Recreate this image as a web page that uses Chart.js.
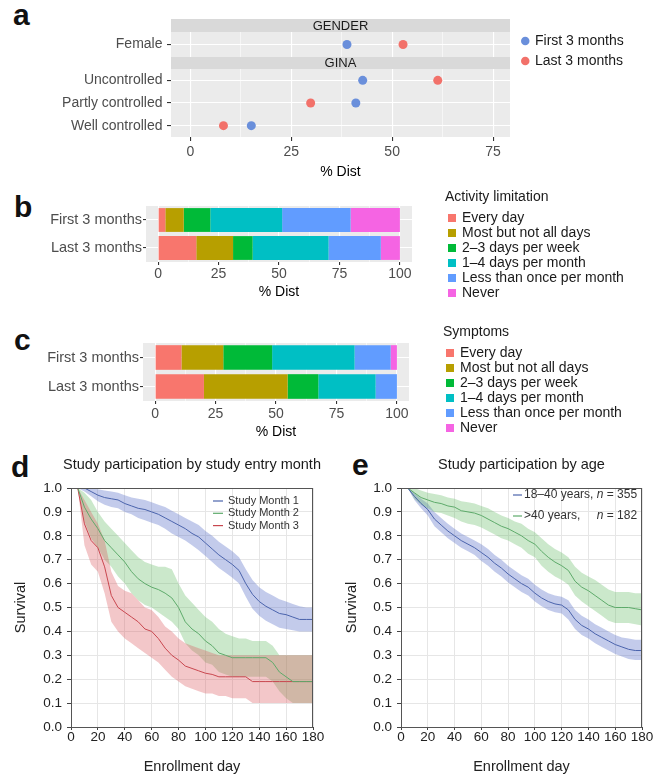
<!DOCTYPE html>
<html>
<head>
<meta charset="utf-8">
<script src="https://cdn.jsdelivr.net/npm/chart.js@4.4.1/dist/chart.umd.min.js"></script>
<style>
  html, body { margin: 0; padding: 0; background: #fff; }
  body { position: relative; width: 655px; height: 779px; overflow: hidden; font-family: "Liberation Sans", Arial, sans-serif; }
  .box { position: absolute; }
  .tag { position: absolute; font-weight: bold; font-size: 30px; line-height: 1; color: #111; }
</style>
</head>
<body>
<div class="tag" style="left:13px; top:0px">a</div>
<div class="tag" style="left:14px; top:192px">b</div>
<div class="tag" style="left:14px; top:325px">c</div>
<div class="tag" style="left:11px; top:452px">d</div>
<div class="tag" style="left:352px; top:450px">e</div>

<div class="box" style="left:0; top:0; width:655px; height:185px"><canvas id="chartA2"></canvas></div>
<div class="box" style="left:0; top:0; width:655px; height:70px"><canvas id="chartA1"></canvas></div>
<div class="box" style="left:0; top:185px; width:655px; height:125px"><canvas id="chartB"></canvas></div>
<div class="box" style="left:0; top:320px; width:655px; height:130px"><canvas id="chartC"></canvas></div>
<div class="box" style="left:0; top:450px; width:330px; height:329px"><canvas id="chartD"></canvas></div>
<div class="box" style="left:330px; top:450px; width:325px; height:329px"><canvas id="chartE"></canvas></div>

<script>
// ---- panel a: % distribution by gender / GINA control ----
const aFacets = ['GENDER', 'GINA'];
const aCategories = ['Female', 'Uncontrolled', 'Partly controlled', 'Well controlled'];
const aFacetOf = ['GENDER', 'GINA', 'GINA', 'GINA'];
const aFirst = [38.8, 42.7, 41.0, 15.1];
const aLast = [52.7, 61.3, 29.8, 8.2];
const aTicks = [0, 25, 50, 75];

// ---- panels b, c: stacked frequency bars ----
const periods = ['First 3 months', 'Last 3 months'];
const freqLevels = ['Every day', 'Most but not all days', '2\u20133 days per week', '1\u20134 days per month', 'Less than once per month', 'Never'];
const activityFirst = [3.0, 7.6, 11.0, 29.7, 28.3, 20.4];
const activityLast = [15.8, 15.2, 8.1, 31.4, 21.6, 7.9];
const symptomsFirst = [10.9, 17.3, 20.2, 34.1, 14.9, 2.6];
const symptomsLast = [20.2, 34.6, 12.7, 23.7, 8.8, 0];

// ---- panels d, e: survival curves ----
const days = [5, 10, 15, 20, 25, 30, 35, 40, 45, 50, 55, 60, 65, 70, 75, 80, 85, 90, 95, 100, 105, 110, 115, 120, 125, 130, 135, 140, 145, 150, 155, 160, 165, 170, 175, 180];

const month1 = [1.0, 1.0, 0.985, 0.97, 0.96, 0.955, 0.95, 0.935, 0.925, 0.915, 0.91, 0.9, 0.89, 0.875, 0.86, 0.845, 0.83, 0.81, 0.795, 0.77, 0.745, 0.72, 0.70, 0.68, 0.655, 0.60, 0.555, 0.525, 0.505, 0.49, 0.475, 0.47, 0.46, 0.45, 0.45, 0.45];
const month1Upper = [1.0, 1.0, 1.0, 0.995, 0.99, 0.985, 0.98, 0.97, 0.96, 0.955, 0.95, 0.94, 0.93, 0.92, 0.905, 0.89, 0.875, 0.86, 0.845, 0.82, 0.8, 0.775, 0.755, 0.735, 0.71, 0.66, 0.615, 0.585, 0.565, 0.55, 0.535, 0.525, 0.515, 0.505, 0.50, 0.50];
const month1Lower = [1.0, 0.985, 0.965, 0.945, 0.93, 0.92, 0.915, 0.9, 0.89, 0.875, 0.865, 0.855, 0.845, 0.83, 0.81, 0.795, 0.78, 0.76, 0.74, 0.715, 0.69, 0.665, 0.645, 0.625, 0.6, 0.545, 0.495, 0.465, 0.445, 0.43, 0.415, 0.41, 0.405, 0.40, 0.40, 0.40];

const month2 = [1.0, 0.92, 0.87, 0.83, 0.78, 0.75, 0.72, 0.69, 0.65, 0.62, 0.6, 0.585, 0.575, 0.56, 0.54, 0.5, 0.44, 0.41, 0.39, 0.36, 0.34, 0.31, 0.3, 0.29, 0.29, 0.29, 0.29, 0.29, 0.29, 0.27, 0.23, 0.21, 0.19, 0.19, 0.19, 0.19];
const month2Upper = [1.0, 0.98, 0.95, 0.9, 0.86, 0.83, 0.8, 0.77, 0.74, 0.71, 0.69, 0.68, 0.67, 0.67, 0.66, 0.6, 0.55, 0.52, 0.49, 0.46, 0.44, 0.41, 0.39, 0.38, 0.37, 0.37, 0.36, 0.36, 0.36, 0.34, 0.30, 0.30, 0.30, 0.30, 0.30, 0.30];
const month2Lower = [1.0, 0.86, 0.79, 0.75, 0.70, 0.67, 0.63, 0.6, 0.56, 0.53, 0.51, 0.5, 0.48, 0.46, 0.44, 0.41, 0.35, 0.32, 0.30, 0.27, 0.26, 0.23, 0.22, 0.21, 0.21, 0.21, 0.21, 0.21, 0.21, 0.19, 0.15, 0.12, 0.1, 0.1, 0.1, 0.1];

const month3 = [1.0, 0.85, 0.78, 0.75, 0.67, 0.55, 0.5, 0.48, 0.46, 0.44, 0.41, 0.40, 0.37, 0.33, 0.30, 0.28, 0.255, 0.245, 0.235, 0.225, 0.22, 0.21, 0.21, 0.21, 0.21, 0.21, 0.19, 0.19, 0.19, 0.19, 0.19, 0.19, 0.19, 0.19, 0.19, 0.19];
const month3Upper = [1.0, 0.95, 0.9, 0.85, 0.78, 0.65, 0.59, 0.57, 0.56, 0.53, 0.5, 0.49, 0.46, 0.42, 0.40, 0.37, 0.35, 0.34, 0.33, 0.32, 0.31, 0.30, 0.30, 0.30, 0.30, 0.30, 0.30, 0.30, 0.30, 0.30, 0.30, 0.30, 0.30, 0.30, 0.30, 0.30];
const month3Lower = [1.0, 0.76, 0.68, 0.65, 0.56, 0.44, 0.4, 0.37, 0.35, 0.33, 0.31, 0.29, 0.27, 0.24, 0.21, 0.19, 0.17, 0.16, 0.15, 0.14, 0.14, 0.13, 0.13, 0.12, 0.12, 0.12, 0.1, 0.1, 0.1, 0.1, 0.1, 0.1, 0.1, 0.1, 0.1, 0.1];

const young = [1.0, 0.965, 0.935, 0.91, 0.87, 0.845, 0.82, 0.80, 0.78, 0.765, 0.75, 0.73, 0.71, 0.685, 0.665, 0.64, 0.62, 0.60, 0.585, 0.56, 0.54, 0.525, 0.515, 0.51, 0.49, 0.45, 0.425, 0.41, 0.39, 0.375, 0.36, 0.345, 0.335, 0.325, 0.32, 0.32];
const youngUpper = [1.0, 0.98, 0.955, 0.935, 0.9, 0.875, 0.85, 0.83, 0.81, 0.795, 0.78, 0.765, 0.745, 0.72, 0.7, 0.675, 0.655, 0.635, 0.62, 0.595, 0.575, 0.56, 0.55, 0.545, 0.53, 0.49, 0.465, 0.45, 0.43, 0.415, 0.40, 0.385, 0.375, 0.37, 0.365, 0.365];
const youngLower = [1.0, 0.95, 0.915, 0.885, 0.84, 0.815, 0.79, 0.77, 0.75, 0.735, 0.72, 0.695, 0.675, 0.65, 0.63, 0.605, 0.585, 0.565, 0.55, 0.525, 0.505, 0.49, 0.48, 0.475, 0.45, 0.41, 0.385, 0.37, 0.35, 0.335, 0.32, 0.305, 0.295, 0.285, 0.28, 0.28];

const older = [1.0, 0.98, 0.96, 0.95, 0.94, 0.935, 0.925, 0.92, 0.905, 0.9, 0.895, 0.885, 0.87, 0.855, 0.84, 0.83, 0.815, 0.80, 0.78, 0.765, 0.735, 0.71, 0.69, 0.675, 0.655, 0.61, 0.585, 0.57, 0.55, 0.53, 0.51, 0.50, 0.50, 0.50, 0.495, 0.49];
const olderUpper = [1.0, 1.0, 0.99, 0.98, 0.975, 0.97, 0.96, 0.955, 0.945, 0.94, 0.935, 0.925, 0.915, 0.9, 0.885, 0.875, 0.86, 0.85, 0.83, 0.815, 0.79, 0.765, 0.745, 0.73, 0.71, 0.67, 0.645, 0.63, 0.615, 0.595, 0.575, 0.565, 0.565, 0.565, 0.56, 0.56];
const olderLower = [1.0, 0.955, 0.93, 0.915, 0.9, 0.895, 0.885, 0.875, 0.86, 0.85, 0.845, 0.835, 0.82, 0.805, 0.79, 0.78, 0.765, 0.75, 0.725, 0.71, 0.675, 0.65, 0.63, 0.615, 0.595, 0.55, 0.525, 0.505, 0.485, 0.465, 0.445, 0.435, 0.435, 0.435, 0.43, 0.425];

const hueColors = ['#F8766D', '#B79F00', '#00BA38', '#00BFC4', '#619CFF', '#F564E3'];
const FONT = '"Liberation Sans", Arial, Helvetica, sans-serif';

Chart.defaults.font.family = FONT;
Chart.defaults.animation = false;
Chart.defaults.plugins.legend.display = false;
Chart.defaults.plugins.tooltip.enabled = false;

function fixWidth(w) { return function (scale) { scale.width = w; }; }
function fixHeight(h) { return function (scale) { scale.height = h; }; }

// grey ggplot panel, with an optional facet strip sitting just above it
function panelBackground(color, strip, stripH) {
  return {
    id: 'panelBackground',
    beforeDraw(chart) {
      const a = chart.chartArea, ctx = chart.ctx;
      ctx.save();
      ctx.fillStyle = color;
      ctx.fillRect(a.left, a.top, a.right - a.left, a.bottom - a.top);
      if (strip) {
        ctx.fillStyle = '#D9D9D9';
        ctx.fillRect(a.left, a.top - stripH, a.right - a.left, stripH);
        ctx.fillStyle = '#1A1A1A';
        ctx.font = '13px ' + FONT;
        ctx.textAlign = 'center';
        ctx.textBaseline = 'middle';
        ctx.fillText(strip, (a.left + a.right) / 2, a.top - stripH / 2 + 0.5);
      }
      ctx.restore();
    }
  };
}

// ggplot style legend to the right of the panel
function sideLegend(cfg) {
  return {
    id: 'sideLegend',
    afterDraw(chart) {
      const ctx = chart.ctx;
      ctx.save();
      ctx.textBaseline = 'middle';
      ctx.textAlign = 'left';
      ctx.font = '14px ' + FONT;
      ctx.fillStyle = '#1A1A1A';
      if (cfg.title) ctx.fillText(cfg.title, cfg.titleX, cfg.titleY);
      chart.data.datasets.forEach((ds, i) => {
        const y = cfg.y + i * cfg.rowH;
        ctx.fillStyle = ds.backgroundColor;
        if (cfg.shape === 'circle') {
          ctx.beginPath();
          ctx.arc(cfg.x + cfg.size / 2, y, cfg.size / 2, 0, Math.PI * 2);
          ctx.fill();
        } else {
          ctx.fillRect(cfg.x, y - cfg.size / 2, cfg.size, cfg.size);
        }
        ctx.fillStyle = '#1A1A1A';
        ctx.fillText(ds.label, cfg.textX, y + 0.5);
      });
      ctx.restore();
    }
  };
}

// MATLAB style legend inside the top right of the axes; "n" is set in italics
function insideLegend(cfg) {
  return {
    id: 'insideLegend',
    afterDatasetsDraw(chart) {
      const a = chart.chartArea, ctx = chart.ctx;
      const items = chart.data.datasets.filter(ds => ds.inLegend);
      const normal = cfg.size + 'px ' + FONT;
      const italic = 'italic ' + cfg.size + 'px ' + FONT;
      const x0 = a.left + cfg.dx;
      const tx = x0 + cfg.lineLen + cfg.gap;
      ctx.save();
      ctx.textBaseline = 'middle';
      ctx.textAlign = 'left';
      const parts = items.map(ds => {
        const m = ds.label.match(/^(.*?)\s*n( = .*)$/);
        if (!m) return { head: ds.label, tail: null };
        ctx.font = normal;
        const hw = ctx.measureText(m[1] + ' ').width;
        const tw = ctx.measureText(m[2]).width;
        ctx.font = italic;
        const nw = ctx.measureText('n').width;
        return { head: m[1] + ' ', tail: m[2], hw, nw, tw };
      });
      const tailRight = Math.max(...parts.map(p => p.tail ? p.hw + p.nw + p.tw : 0));
      items.forEach((ds, i) => {
        const y = a.top + cfg.dy + i * cfg.rowH;
        ctx.strokeStyle = ds.borderColor;
        ctx.lineWidth = 1.2;
        ctx.beginPath();
        ctx.moveTo(x0, y);
        ctx.lineTo(x0 + cfg.lineLen, y);
        ctx.stroke();
        ctx.fillStyle = '#333';
        ctx.font = normal;
        const p = parts[i];
        ctx.fillText(p.head, tx, y);
        if (p.tail) {
          const nx = tx + tailRight - p.tw - p.nw;
          ctx.font = italic;
          ctx.fillText('n', nx, y);
          ctx.font = normal;
          ctx.fillText(p.tail, nx + p.nw, y);
        }
      });
      ctx.restore();
    }
  };
}

const boxBorder = {
  id: 'boxBorder',
  afterDatasetsDraw(chart) {
    const a = chart.chartArea, ctx = chart.ctx;
    ctx.save();
    ctx.strokeStyle = '#555';
    ctx.lineWidth = 1;
    ctx.strokeRect(Math.round(a.left) + 0.5, Math.round(a.top) + 0.5, Math.round(a.right - a.left) - 1, Math.round(a.bottom - a.top));
    ctx.restore();
  }
};

function areaTitle(text, y) {
  return {
    id: 'areaTitle',
    afterDraw(chart) {
      const a = chart.chartArea, ctx = chart.ctx;
      ctx.save();
      ctx.font = '14.5px ' + FONT;
      ctx.fillStyle = '#1A1A1A';
      ctx.textAlign = 'center';
      ctx.textBaseline = 'middle';
      ctx.fillText(text, (a.left + a.right) / 2, y);
      ctx.restore();
    }
  };
}

// ---------- panel a: one chart per facet ----------
const isMajorA = v => aTicks.includes(v);

function facetChart(id, facet, geo) {
  const rows = aCategories.filter((c, i) => aFacetOf[i] === facet);
  const pick = vals => aCategories.map((c, i) => ({ x: vals[i], y: c })).filter(p => rows.includes(p.y));
  const plugins = [panelBackground('#EBEBEB', facet, 13)];
  if (geo.legend) plugins.push(sideLegend({ shape: 'circle', x: 521, y: 41, rowH: 20, size: 8.5, textX: 535 }));
  return new Chart(document.getElementById(id), {
    type: 'scatter',
    data: {
      datasets: [
        { label: 'First 3 months', data: pick(aFirst), backgroundColor: '#6A8FDB', pointBackgroundColor: '#6A8FDB', pointBorderWidth: 0, pointRadius: 4.5 },
        { label: 'Last 3 months', data: pick(aLast), backgroundColor: '#F2716A', pointBackgroundColor: '#F2716A', pointBorderWidth: 0, pointRadius: 4.5 }
      ]
    },
    options: {
      responsive: true,
      maintainAspectRatio: false,
      layout: { autoPadding: false, padding: { left: 0, top: geo.top, right: 145, bottom: 0 } },
      scales: {
        x: {
          type: 'linear', min: -4.8, max: 79.2,
          afterFit: fixHeight(geo.axisH),
          border: { display: false },
          grid: {
            color: '#FFFFFF',
            lineWidth: ctx => isMajorA(ctx.tick.value) ? 1.1 : 0.55,
            drawTicks: geo.axis,
            tickLength: 4,
            tickColor: ctx => isMajorA(ctx.tick.value) ? '#333333' : 'rgba(0,0,0,0)'
          },
          ticks: {
            display: geo.axis,
            stepSize: 12.5, includeBounds: false, autoSkip: false, maxRotation: 0,
            padding: 4, color: '#4D4D4D', font: { size: 14, lineHeight: 1 },
            callback: v => isMajorA(v) ? String(v) : ''
          },
          title: { display: geo.axis, text: '% Dist', color: '#000', font: { size: 14 }, padding: { top: 0, bottom: 4.6 } }
        },
        y: {
          type: 'category', labels: rows, offset: true,
          afterFit: fixWidth(171),
          border: { display: false },
          grid: { offset: false, color: '#FFFFFF', lineWidth: 1.1, tickLength: 4, tickColor: '#333333' },
          ticks: { padding: 4.5, color: '#4D4D4D', font: { size: 14, lineHeight: 1 } }
        }
      }
    },
    plugins: plugins
  });
}

facetChart('chartA2', 'GINA', { top: 69, axisH: 48, axis: true, legend: true });
facetChart('chartA1', 'GENDER', { top: 32, axisH: 13, axis: false, legend: false });

// ---------- panels b and c ----------
function stackedPanel(id, title, first, last, geo) {
  return new Chart(document.getElementById(id), {
    type: 'bar',
    data: {
      labels: periods,
      datasets: freqLevels.map((lvl, k) => ({
        label: lvl,
        data: [first[k], last[k]],
        backgroundColor: hueColors[k],
        borderWidth: 0,
        barPercentage: 0.85,
        categoryPercentage: 1
      }))
    },
    options: {
      indexAxis: 'y',
      responsive: true,
      maintainAspectRatio: false,
      layout: { autoPadding: false, padding: { left: 0, top: geo.top, right: geo.right, bottom: 0 } },
      scales: {
        x: {
          stacked: true, type: 'linear', min: -5, max: 105,
          afterFit: fixHeight(geo.axisH),
          border: { display: false },
          grid: {
            color: '#FFFFFF',
            lineWidth: ctx => ctx.tick.value % 25 === 0 ? 1.1 : 0.55,
            tickLength: 3,
            tickColor: ctx => ctx.tick.value % 25 === 0 ? '#333333' : 'rgba(0,0,0,0)'
          },
          ticks: {
            stepSize: 12.5, includeBounds: false, autoSkip: false, maxRotation: 0,
            padding: geo.tickPad, color: '#4D4D4D', font: { size: 14, lineHeight: 1 },
            callback: v => v % 25 === 0 ? String(v) : ''
          },
          title: { display: true, text: '% Dist', color: '#000', font: { size: 14 }, padding: { top: 0, bottom: 9.6 } }
        },
        y: {
          stacked: true,
          afterFit: fixWidth(geo.left),
          border: { display: false },
          grid: { offset: false, color: '#FFFFFF', lineWidth: 1.1, tickLength: 3, tickColor: '#333333' },
          ticks: { padding: 1, color: '#4D4D4D', font: { size: 14.5, lineHeight: 1 } }
        }
      }
    },
    plugins: [
      panelBackground('#EBEBEB'),
      sideLegend({ title: title, titleX: geo.legX - 3, titleY: 12, shape: 'square', x: geo.legX, y: 33, rowH: 15, size: 8, textX: geo.legX + 14 })
    ]
  });
}

stackedPanel('chartB', 'Activity limitation', activityFirst, activityLast, { top: 21, right: 243, left: 146, axisH: 48, tickPad: 2, legX: 448 });
stackedPanel('chartC', 'Symptoms', symptomsFirst, symptomsLast, { top: 23, right: 246, left: 143, axisH: 49, tickPad: 3, legX: 446 });

// ---------- panels d and e ----------
const pts = (xs, ys) => xs.map((x, i) => ({ x: x, y: ys[i] }));

function survLine(label, ys, color) {
  return { label: label, inLegend: true, data: pts(days, ys), borderColor: color, borderWidth: 1, pointRadius: 0, fill: false, tension: 0 };
}
function survBand(upper, lower, color) {
  return [
    { label: '', data: pts(days, upper), borderColor: 'rgba(0,0,0,0)', backgroundColor: color, pointRadius: 0, fill: false, tension: 0 },
    { label: '', data: pts(days, lower), borderColor: 'rgba(0,0,0,0)', backgroundColor: color, pointRadius: 0, fill: '-1', tension: 0 }
  ];
}

function survivalOptions(rightPad, titleLeftPad) {
  return {
    responsive: true,
    maintainAspectRatio: false,
    layout: { autoPadding: false, padding: { left: 0, top: 38, right: rightPad, bottom: 0 } },
    scales: {
      x: {
        type: 'linear', min: 0, max: 180,
        afterFit: fixHeight(52),
        border: { display: false },
        grid: { color: '#E6E6E6', lineWidth: 1, tickLength: 3, tickColor: '#444' },
        ticks: { stepSize: 20, autoSkip: false, maxRotation: 0, padding: 1, color: '#222', font: { size: 13.5, lineHeight: 1 } },
        title: { display: true, text: 'Enrollment day', color: '#222', font: { size: 14.5 }, padding: { top: 0, bottom: 3.4 } }
      },
      y: {
        min: 0, max: 1,
        afterFit: fixWidth(71),
        border: { display: false },
        grid: { color: '#E6E6E6', lineWidth: 1, tickLength: 4, tickColor: '#444' },
        ticks: { stepSize: 0.1, padding: 5, color: '#222', font: { size: 13.5, lineHeight: 1 }, callback: v => v.toFixed(1) },
        title: { display: true, text: 'Survival', color: '#222', font: { size: 14.5 }, padding: { top: titleLeftPad, bottom: 0 } }
      }
    }
  };
}

const BLUE = '#4A63AC', GREEN = '#5DAA6A', RED = '#C8474F';
const BLUE_BAND = 'rgba(97,117,202,0.38)', GREEN_BAND = 'rgba(98,184,98,0.33)', RED_BAND = 'rgba(218,86,92,0.33)';

new Chart(document.getElementById('chartD'), {
  type: 'line',
  data: {
    datasets: [
      survLine('Study Month 1', month1, BLUE),
      survLine('Study Month 2', month2, GREEN),
      survLine('Study Month 3', month3, RED),
      ...survBand(month3Upper, month3Lower, RED_BAND),
      ...survBand(month2Upper, month2Lower, GREEN_BAND),
      ...survBand(month1Upper, month1Lower, BLUE_BAND)
    ]
  },
  options: survivalOptions(17, 12.4),
  plugins: [
    boxBorder,
    areaTitle('Study participation by study entry month', 15),
    insideLegend({ dx: 142, dy: 13, rowH: 12.3, lineLen: 10, gap: 5, size: 11 })
  ]
});

new Chart(document.getElementById('chartE'), {
  type: 'line',
  data: {
    datasets: [
      survLine('18\u201340 years, n = 355', young, BLUE),
      survLine('>40 years, n = 182', older, GREEN),
      ...survBand(olderUpper, olderLower, GREEN_BAND),
      ...survBand(youngUpper, youngLower, BLUE_BAND)
    ]
  },
  options: survivalOptions(13, 13.4),
  plugins: [
    boxBorder,
    areaTitle('Study participation by age', 15),
    insideLegend({ dx: 112, dy: 7, rowH: 21, lineLen: 9, gap: 2, size: 12 })
  ]
});
</script>
</body>
</html>
